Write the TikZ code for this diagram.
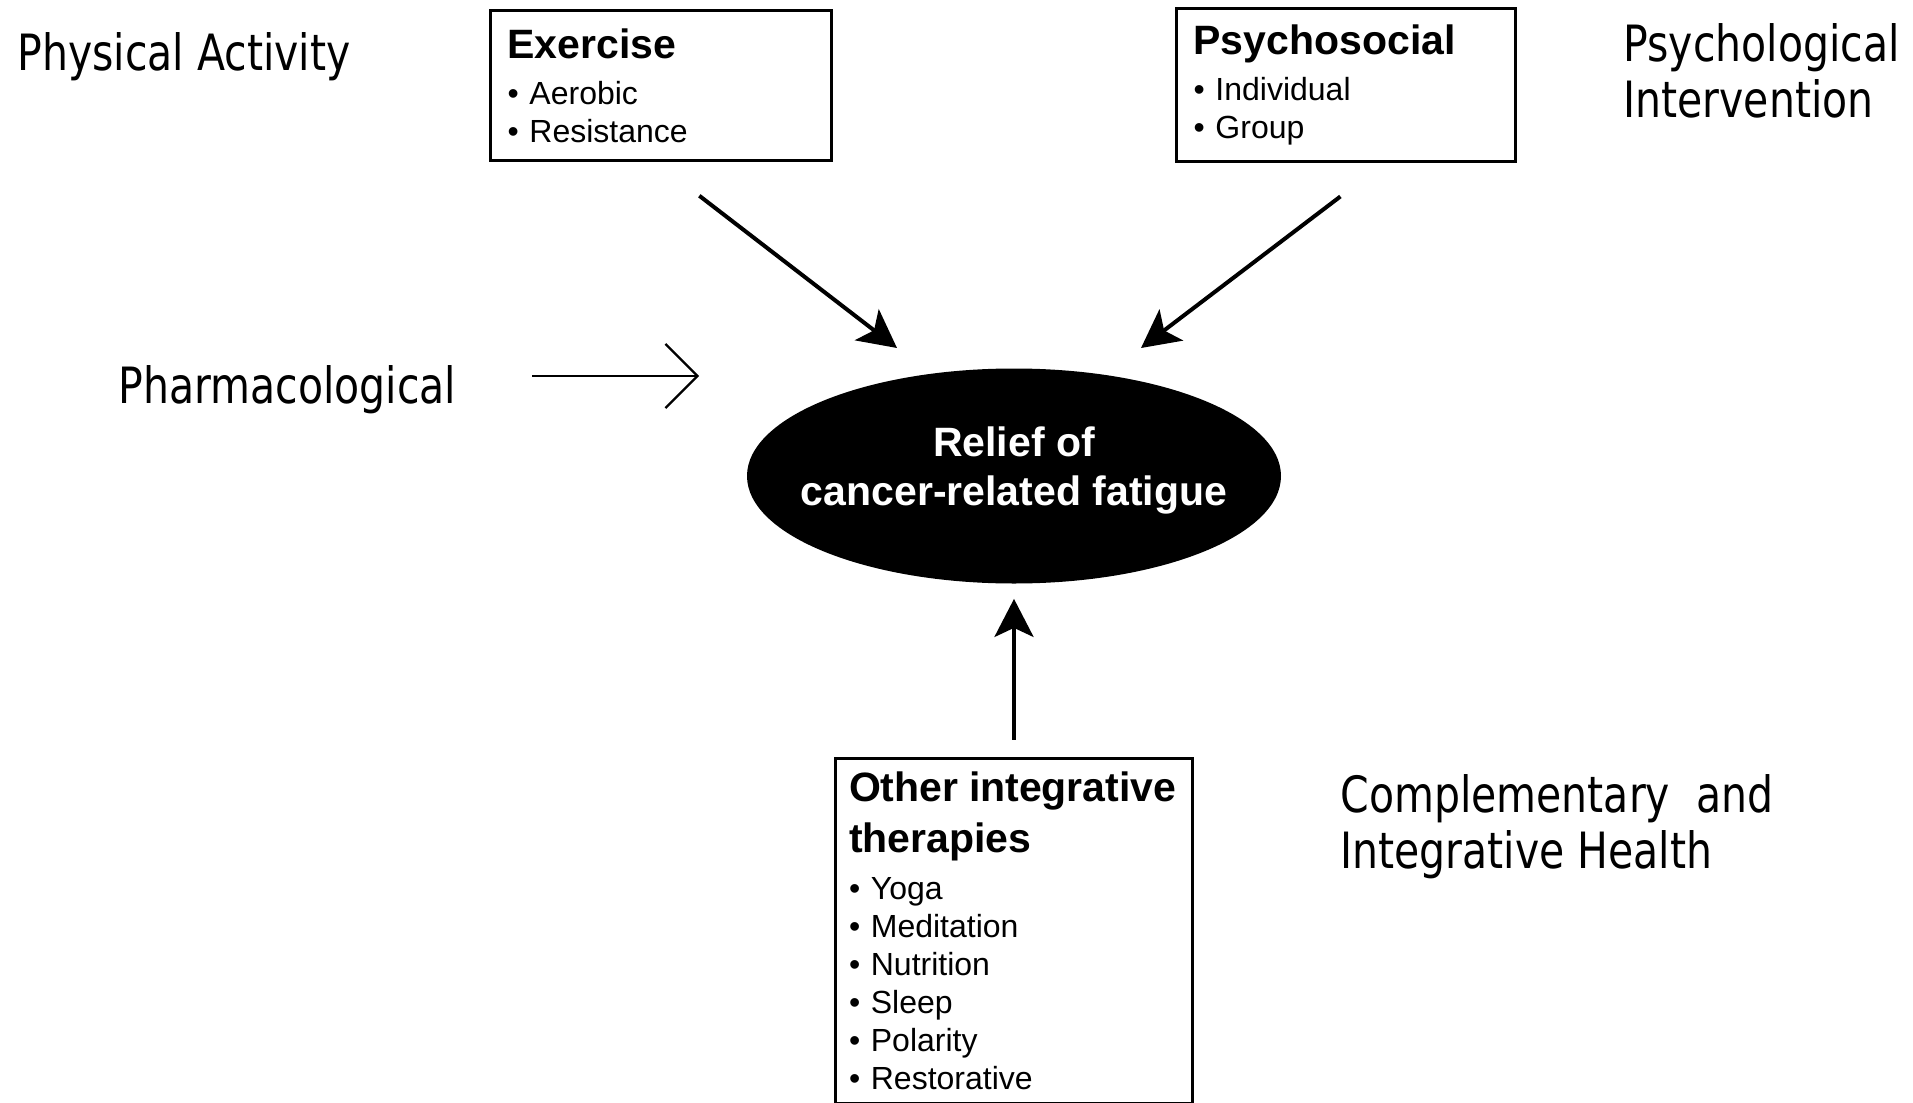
\documentclass[tikz,border=0pt]{standalone}
\usepackage{fontspec}
\setmainfont{Liberation Sans}
\newfontfamily\etiqfont{DejaVu Sans}[FakeStretch=0.82]
\usepackage{tikz}
\usetikzlibrary{shapes.geometric, arrows.meta, positioning}
\newcommand{\titulo}[1]{{\fontsize{20.5}{24.5}\selectfont\bfseries #1}}
\tikzset{
  caja/.style={rectangle, draw=black, line width=1.6pt, fill=white,
    inner xsep=8.5pt, inner ysep=0pt, align=left,
    font=\fontsize{16}{19}\selectfont},
  elipse/.style={ellipse, fill=black, inner sep=0pt,
    minimum width=267pt, minimum height=107.5pt},
  elipsetexto/.style={text=white, align=center, inner sep=0pt, yshift=3pt,
    font=\fontsize{20.5}{24.5}\selectfont\bfseries},
  etiq/.style={anchor=base west, inner sep=0pt, align=left,
    font=\etiqfont\fontsize{25}{28}\selectfont},
  flecha/.style={-{Stealth[length=19pt, width=19.5pt, inset=4.5pt]},
    line width=2pt, color=black},
  barb/.style={-{Straight Barb[length=16pt, width=32pt]}, line width=1.1pt}
}
\begin{document}
\begin{tikzpicture}[x=0.5pt, y=-0.5pt]
  \useasboundingbox (0,0) rectangle (1913,1103);
  \node[elipse, label={[elipsetexto]center:{Relief of\\cancer-related fatigue}}]
    (relief) at (1014,476) {};
  \node[caja, anchor=north west, text width=153.5pt, minimum height=75pt] (exer) at (489,9)
    {\titulo{Exercise}\\[4pt]\textbullet\ Aerobic\\\textbullet\ Resistance};
  \node[caja, anchor=north west, text width=152.5pt, minimum height=76.5pt] (psyc) at (1175,7)
    {\titulo{Psychosocial}\\[4pt]\textbullet\ Individual\\\textbullet\ Group};
  \node[caja, below=86.5pt of relief, inner xsep=6.75pt, text width=165pt,
    minimum height=172.5pt] (otras)
    {\titulo{Other integrative}\\[5.5pt]\titulo{therapies}\\[4.5pt]\textbullet\ Yoga\\
     \textbullet\ Meditation\\\textbullet\ Nutrition\\\textbullet\ Sleep\\
     \textbullet\ Polarity\\\textbullet\ Restorative};
  % etiquetas
  \node[etiq] (fisica) at (17,70) {Physical Activity};
  \node[etiq] (psico) at (1623,117) {Psychological\\Intervention};
  \node[etiq] (farma) at (118,403) {Pharmacological};
  \node[etiq] (compl) at (1340,868) {Complementary\ \ and\\Integrative Health};
  % flechas
  \coordinate (exTip) at (897,348);
  \coordinate (psTip) at (1141,348);
  \coordinate (phTip) at (699,376);
  \draw[flecha, shorten <=27.5pt] (exer.-94) -- (exTip);
  \draw[flecha, shorten <=27.5pt] (psyc.-64.5) -- (psTip);
  \draw[flecha, shorten <=8.5pt, shorten >=7.5pt] (otras.north) -- (relief.south);
  \draw[barb, shorten <=38pt] (farma.east |- phTip) -- (phTip);
\end{tikzpicture}
\end{document}
